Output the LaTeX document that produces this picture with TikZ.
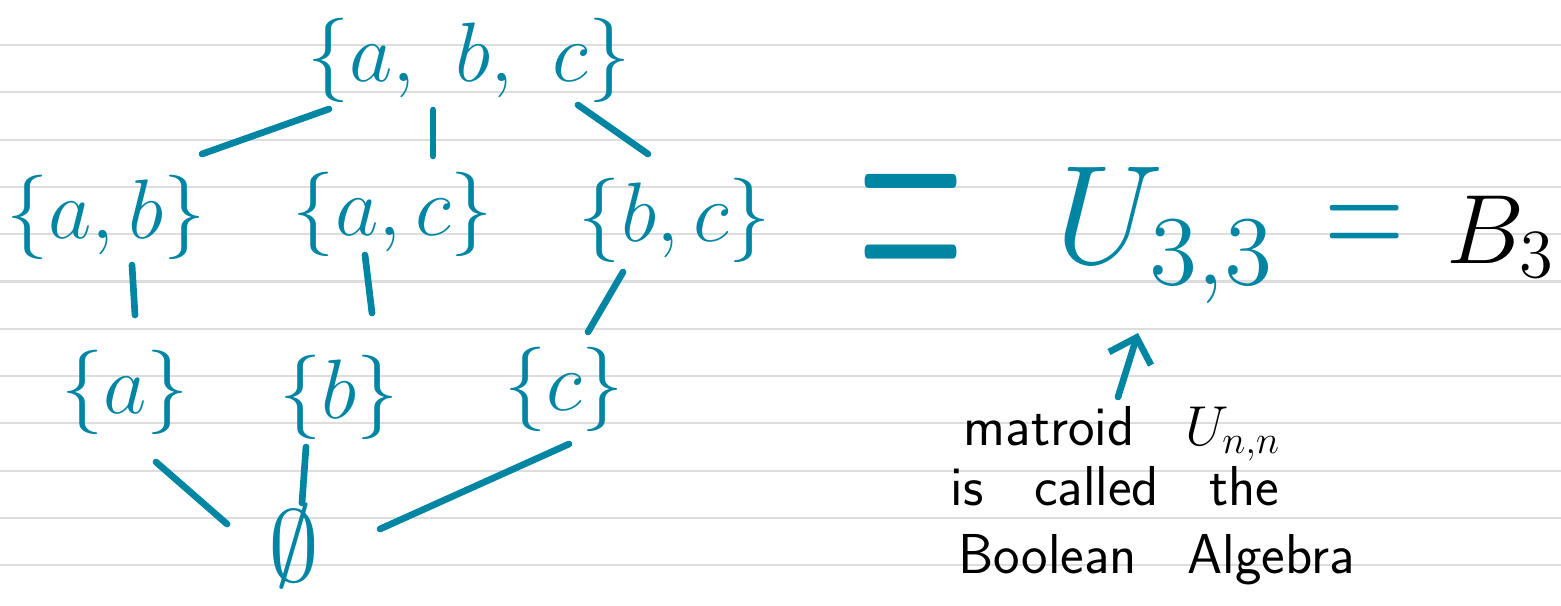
\documentclass[tikz,border=0pt]{standalone}
\usepackage{amsmath}
\usepackage{amssymb}
\usepackage{graphicx}
\usepackage{tikz}
\usetikzlibrary{arrows.meta}

% make the CM math fonts scale to any size
\DeclareFontShape{OML}{cmm}{m}{it}{<-9.5>cmmi9<9.5-11>cmmi10<11->cmmi12}{\skewchar\font=127}
\DeclareFontShape{OMS}{cmsy}{m}{n}{<-9.5>cmsy9<9.5->cmsy10}{\skewchar\font=48}
\DeclareFontShape{OT1}{cmr}{m}{n}{<-9.5>cmr9<9.5-11>cmr10<11->cmr12}{}

\definecolor{penteal}{RGB}{0,133,163}
\definecolor{rulegray}{RGB}{221,221,221}

\begin{document}
\begin{tikzpicture}[
    x=0.01cm,
    y=-0.01cm,
    line cap=round,
    line join=round,
    >={Straight Barb[length=2.2mm,width=4.4mm]},
    set/.style={penteal, inner sep=1pt, font=\fontsize{24}{28}\selectfont},
    hasse/.style={penteal, line width=1.9pt},
    note/.style={anchor=base west, inner sep=0pt,
        font={\sffamily\fontsize{16}{19}\selectfont\spaceskip=0.9em\relax}}
]

    \useasboundingbox (0,0) rectangle (1561,605);

    % ruled paper
    \foreach \k in {0,...,11} {
        \draw[rulegray, line width=0.6pt] (0,{45+47.3*\k}) -- (1561,{45+47.3*\k});
    }

    % the lattice of subsets
    \node[set] (abc) at (469,60) {$\{a,\ b,\ c\}$};
    \node[set] (ab) at (106,217) {$\{a, b\}$};
    \node[set] (ac) at (393,214) {$\{a, c\}$};
    \node[set] (bc) at (675,220) {$\{b, c\}$};
    \node[set] (a) at (125,392) {$\{a\}$};
    \node[set] (b) at (339,397) {$\{b\}$};
    \node[set] (c) at (564,389) {$\{c\}$};
    \node[set, font=\fontsize{29}{34}\selectfont] (empty) at (294,546) {$\emptyset$};

    \draw[hasse] ([shift={(-140,49)}]abc.center) -- ([shift={(96,-63)}]ab.center);
    \draw[hasse] ([shift={(-36,50)}]abc.center) -- ([shift={(40,-58)}]ac.center);
    \draw[hasse] ([shift={(109,45)}]abc.center) -- ([shift={(-27,-66)}]bc.center);

    \draw[hasse] ([shift={(26,48)}]ab.center) -- ([shift={(10,-77)}]a.center);
    \draw[hasse] ([shift={(-28,41)}]ac.center) -- ([shift={(33,-84)}]b.center);
    \draw[hasse] ([shift={(-52,52)}]bc.center) -- ([shift={(24,-57)}]c.center);

    \draw[hasse] ([shift={(31,70)}]a.center) -- ([shift={(-67,-22)}]empty.center);
    \draw[hasse] ([shift={(-33,50)}]b.center) -- ([shift={(8,-43)}]empty.center);
    \draw[hasse] ([shift={(5,55)}]c.center) -- ([shift={(86,-17)}]empty.center);

    % = U_{3,3} = B_3
    \node[penteal, anchor=base, font=\fontsize{40}{48}\selectfont] (eqA) at (911,311)
        {\scalebox{1}[2.7]{$=$}};
    \node[penteal, anchor=base west, inner sep=0pt, font=\fontsize{40}{48}\selectfont] (U33)
        at (1055,263) {$U_{3,3}$};
    \node[penteal, anchor=base, font=\fontsize{30}{36}\selectfont] (eqB) at (1365,259)
        {\scalebox{1}[1.42]{$=$}};
    \node[anchor=base east, inner sep=0pt, font=\fontsize{28}{34}\selectfont] (B3)
        at (1556,263) {$B_3$};

    % remark
    \node[note] (l1) at (963,445) {matroid $U_{n,n}$};
    \node[note] (l2) at (950,505) {is called the};
    \node[note] (l3) at (958,573) {Boolean Algebra};

    \draw[hasse, ->] ([shift={(155,-48)}]l1.base west) -- ([shift={(83,70)}]U33.base west);

\end{tikzpicture}
\end{document}
